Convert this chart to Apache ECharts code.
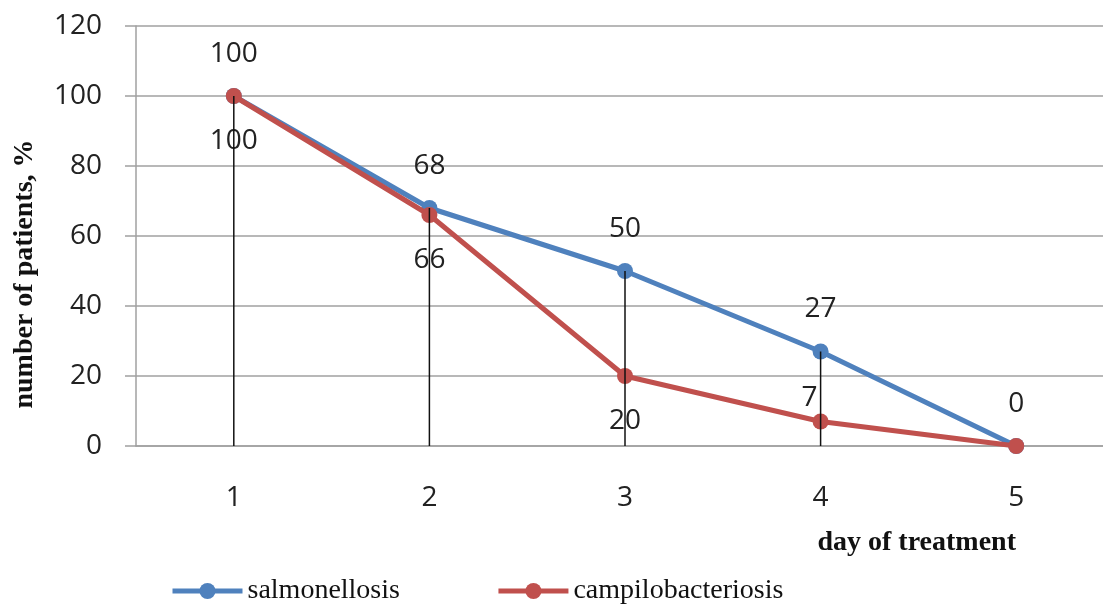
<!DOCTYPE html>
<html>
<head>
<meta charset="utf-8">
<script src="https://cdn.jsdelivr.net/npm/echarts@6/dist/echarts.min.js"></script>
<style>html,body{margin:0;padding:0;background:#fff;overflow:hidden;width:1103px;height:604px;}#c{width:1120px;height:604px;}</style>
</head>
<body>
<div id="c"></div>
<script>
var days = ['1', '2', '3', '4', '5'];
var salmonellosis = [100, 68, 50, 27, 0];
var campilobacteriosis = [100, 66, 20, 7, 0];
var yTicks = [0, 20, 40, 60, 80, 100, 120];

var dropTops = days.map(function (d, i) { return Math.max(salmonellosis[i], campilobacteriosis[i]); });

var numFont = '"Open Sans", "Liberation Sans", sans-serif';
var serifFont = '"Liberation Serif", "DejaVu Serif", serif';

var chart = echarts.init(document.getElementById('c'), null, { renderer: 'canvas' });

var campLabels = campilobacteriosis.map(function (v, i) {
  var item = { value: v };
  if (i === 3) {
    item.label = { position: 'top', distance: 1, offset: [-11, 0] };
  } else if (i === 4) {
    item.label = { show: false };
  }
  return item;
});

chart.setOption({
  animation: false,
  backgroundColor: '#ffffff',
  grid: { left: 136, top: 26, width: 978, height: 420, containLabel: false },
  title: {
    text: 'day of treatment',
    right: 99,
    top: 524,
    textStyle: { fontFamily: serifFont, fontWeight: 'bold', fontSize: 28, color: '#111' }
  },
  graphic: [{
    type: 'text',
    x: 25,
    y: 274,
    rotation: Math.PI / 2,
    style: {
      text: 'number of patients, %',
      font: 'bold 28px ' + serifFont,
      fill: '#111',
      align: 'center',
      verticalAlign: 'middle'
    }
  }],
  legend: {
    data: [
      { name: 'salmonellosis', lineStyle: { width: 5 } },
      { name: 'campilobacteriosis', lineStyle: { width: 5 } }
    ],
    left: 165,
    top: 572,
    itemWidth: 70,
    itemHeight: 20,
    itemGap: 96,
    textStyle: { fontFamily: serifFont, fontSize: 28, color: '#111' }
  },
  xAxis: {
    type: 'category',
    data: days,
    boundaryGap: true,
    axisLine: { show: true, lineStyle: { color: '#a0a0a0', width: 1.5 } },
    axisTick: { show: false },
    axisLabel: { margin: 38, fontFamily: numFont, fontSize: 28, color: '#222' },
    splitLine: { show: false }
  },
  yAxis: {
    type: 'value',
    min: 0,
    max: 120,
    interval: 20,
    axisLine: { show: true, lineStyle: { color: '#a0a0a0', width: 1.5 } },
    axisTick: { show: true, length: 11, lineStyle: { color: '#a0a0a0', width: 1.5 } },
    axisLabel: {
      margin: 34, fontFamily: numFont, fontSize: 28, color: '#222',
      formatter: function (v) { return yTicks.indexOf(v) >= 0 ? String(v) : ''; }
    },
    splitLine: { show: true, lineStyle: { color: '#a0a0a0', width: 1.5 } }
  },
  series: [
    {
      name: 'salmonellosis',
      type: 'line',
      data: salmonellosis,
      symbol: 'circle',
      symbolSize: 16,
      color: '#4F81BD',
      lineStyle: { width: 5, color: '#4F81BD' },
      itemStyle: { color: '#4F81BD' },
      label: { show: true, position: 'top', distance: 20, fontFamily: numFont, fontSize: 28, color: '#222' },
      z: 3
    },
    {
      name: 'campilobacteriosis',
      type: 'line',
      data: campLabels,
      symbol: 'circle',
      symbolSize: 16,
      color: '#C0504D',
      lineStyle: { width: 5, color: '#C0504D' },
      itemStyle: { color: '#C0504D' },
      label: { show: true, position: 'bottom', distance: 23, fontFamily: numFont, fontSize: 28, color: '#222' },
      z: 4
    },
    {
      name: 'drop',
      type: 'bar',
      data: dropTops,
      barWidth: 1.5,
      itemStyle: { color: '#111' },
      silent: true,
      z: 5
    }
  ]
});
</script>
</body>
</html>
